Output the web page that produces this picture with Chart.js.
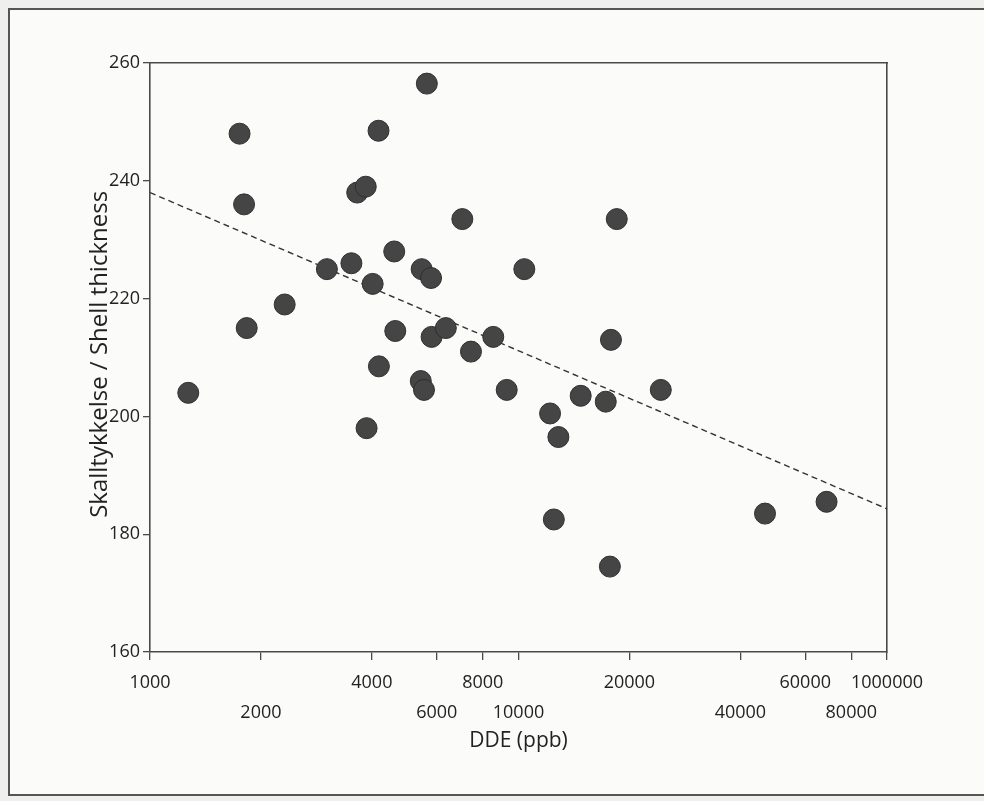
<!DOCTYPE html>
<html>
<head>
<meta charset="utf-8">
<script src="https://cdn.jsdelivr.net/npm/chart.js@4.4.1/dist/chart.umd.min.js"></script>
<style>
  html, body { margin: 0; padding: 0; background: #efefed; }
  #wrap { position: absolute; left: 0; top: 0; width: 984px; height: 801px; overflow: hidden; }
  #frame { position: absolute; left: 8px; top: 8px; width: 1000px; height: 788px; border: 2px solid #555; border-right: none; background: #fbfbfa; box-sizing: border-box; }
  canvas { position: absolute; left: 0; top: 0; }
</style>
</head>
<body>
<div id="wrap">
  <div id="frame"></div>
  <canvas id="chart" width="984" height="801"></canvas>
</div>
<script>
// ==================== DATA ====================
const dde = [1270, 1750, 1800, 1830, 2320, 3020, 3520, 3650, 3850, 3870,
             4020, 4170, 4180, 4600, 4630, 5430, 5460, 5540, 5640, 5790,
             5810, 6350, 7040, 7430, 8540, 9290, 10370, 12180, 12470, 12830,
             14750, 17250, 17700, 17820, 18480, 24330, 46660, 68550];
const thickness = [204, 248, 236, 215, 219, 225, 226, 238, 239, 198,
                   222.5, 248.5, 208.5, 228, 214.5, 206, 225, 204.5, 256.5, 223.5,
                   213.5, 215, 233.5, 211, 213.5, 204.5, 225, 200.5, 182.5, 196.5,
                   203.5, 202.5, 174.5, 213, 233.5, 204.5, 183.5, 185.5];

// trend line end points
const trendX = [1000, 100000];
const trendY = [238, 184.3];

const xTicks = [1000, 2000, 4000, 6000, 8000, 10000, 20000, 40000, 60000, 80000, 100000];
const xTickLabels = ['1000', '2000', '4000', '6000', '8000', '10000', '20000', '40000', '60000', '80000', '1000000'];
const yMin = 160, yMax = 260, yStep = 20;

const xTitle = 'DDE (ppb)';
const yTitle = 'Skalltykkelse / Shell thickness';

// ==================== CHART ====================
const axisColor = '#4a4a4a';
const textColor = '#222';
const tickFont = { family: "'Open Sans', sans-serif", size: 18, lineHeight: 1.65 };

const ctx = document.getElementById('chart').getContext('2d');
new Chart(ctx, {
  type: 'scatter',
  data: {
    datasets: [
      {
        label: 'DDE',
        data: dde.map((v, i) => ({ x: v, y: thickness[i] })),
        backgroundColor: '#454545',
        borderColor: '#2f2f2f',
        borderWidth: 1,
        pointRadius: 10.5,
        pointHoverRadius: 10.5,
        order: 1
      },
      {
        label: 'Trend',
        data: trendX.map((v, i) => ({ x: v, y: trendY[i] })),
        showLine: true,
        borderColor: '#333',
        borderWidth: 1.4,
        borderDash: [6, 4],
        pointRadius: 0,
        fill: false,
        order: 2
      }
    ]
  },
  options: {
    responsive: false,
    animation: false,
    layout: { padding: { left: 86, top: 63, right: 97, bottom: 45 } },
    plugins: { legend: { display: false }, tooltip: { enabled: false } },
    scales: {
      x: {
        type: 'logarithmic',
        position: 'bottom',
        min: 1000,
        max: 100000,
        afterBuildTicks: s => { s.ticks = xTicks.map(v => ({ value: v })); },
        afterFit: s => { s.height = 104; },
        ticks: {
          autoSkip: false,
          maxRotation: 0,
          padding: 8,
          color: textColor,
          font: tickFont,
          callback: v => {
            const i = xTicks.indexOf(v);
            if (i < 0) return '';
            return i % 2 === 0 ? [xTickLabels[i], ''] : ['', xTickLabels[i]];
          }
        },
        grid: { display: true, drawOnChartArea: false, drawTicks: true, tickLength: 8, color: axisColor, lineWidth: 1.3 },
        border: { display: true, color: axisColor, width: 1.6 },
        title: { display: true, text: xTitle, color: textColor, font: { family: "'Open Sans', sans-serif", size: 21 }, padding: { top: 0, bottom: 2 } }
      },
      y: {
        type: 'linear',
        position: 'left',
        min: yMin,
        max: yMax,
        afterFit: s => { s.width = 64; },
        ticks: { stepSize: yStep, padding: 3, color: textColor, font: { family: "'Open Sans', sans-serif", size: 18 } },
        grid: { display: true, drawOnChartArea: false, drawTicks: true, tickLength: 7, color: axisColor, lineWidth: 1.3 },
        border: { display: true, color: axisColor, width: 1.6 },
        title: { display: true, text: ' ' + yTitle, color: textColor, font: { family: "'Open Sans', sans-serif", size: 24 }, padding: { top: 0, bottom: 0 } }
      },
      x2: {
        type: 'logarithmic',
        position: 'top',
        min: 1000,
        max: 100000,
        afterFit: s => { s.height = 0; },
        ticks: { display: false },
        grid: { display: false },
        border: { display: true, color: axisColor, width: 1.6 }
      },
      y2: {
        type: 'linear',
        position: 'right',
        min: yMin,
        max: yMax,
        afterFit: s => { s.width = 0; },
        ticks: { display: false },
        grid: { display: false },
        border: { display: true, color: axisColor, width: 1.6 }
      }
    }
  }
});
</script>
</body>
</html>
